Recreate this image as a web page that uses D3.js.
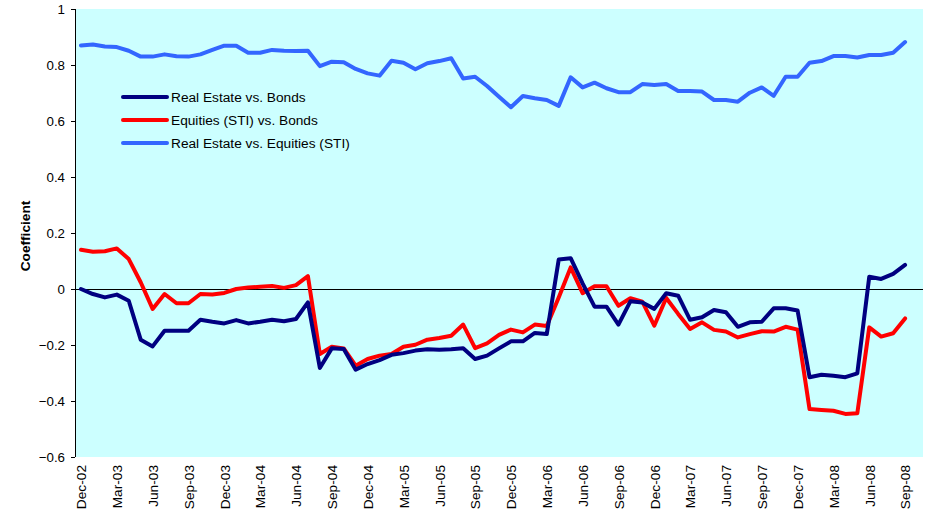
<!DOCTYPE html>
<html>
<head>
<meta charset="utf-8">
<script src="https://cdn.jsdelivr.net/npm/d3@7"></script>
<style>
  body { margin: 0; background: #ffffff; }
  svg { display: block; font-family: "Liberation Sans", Arial, sans-serif; }
</style>
</head>
<body>
<svg id="chart" width="931" height="515"></svg>
<script>
// ---- data ----
const tickLabels = ["Dec-02","Mar-03","Jun-03","Sep-03","Dec-03","Mar-04","Jun-04","Sep-04",
  "Dec-04","Mar-05","Jun-05","Sep-05","Dec-05","Mar-06","Jun-06","Sep-06",
  "Dec-06","Mar-07","Jun-07","Sep-07","Dec-07","Mar-08","Jun-08","Sep-08"];

const seriesNames = ["Real Estate vs. Bonds", "Equities (STI) vs. Bonds", "Real Estate vs. Equities (STI)"];

const realEstateVsBonds = [
  0.000, -0.018, -0.030, -0.020, -0.042, -0.181, -0.205, -0.149, -0.149, -0.149,
  -0.110, -0.117, -0.123, -0.111, -0.123, -0.117, -0.110, -0.115, -0.107, -0.048,
  -0.282, -0.212, -0.214, -0.288, -0.268, -0.254, -0.235, -0.229, -0.220, -0.215,
  -0.217, -0.215, -0.212, -0.250, -0.238, -0.212, -0.187, -0.187, -0.157, -0.161,
   0.105,  0.110,  0.020, -0.063, -0.063, -0.127, -0.044, -0.048, -0.071, -0.015,
  -0.024, -0.110, -0.101, -0.075, -0.083, -0.135, -0.119, -0.117, -0.069, -0.069,
  -0.077, -0.315, -0.306, -0.310, -0.315, -0.301,  0.044,  0.036,  0.054,  0.086
];

const equitiesVsBonds = [
  0.140,  0.133,  0.135,  0.145,  0.107,  0.024, -0.071, -0.018, -0.051, -0.051,
  -0.018, -0.020, -0.014,  0.000,  0.005,  0.008,  0.011,  0.004,  0.014,  0.046,
  -0.232, -0.206, -0.212, -0.274, -0.250, -0.238, -0.232, -0.206, -0.199, -0.181,
  -0.175, -0.167, -0.127, -0.211, -0.194, -0.164, -0.145, -0.155, -0.127, -0.132,
  -0.030,  0.077, -0.015,  0.010,  0.010, -0.060, -0.033, -0.045, -0.131, -0.032,
  -0.089, -0.143, -0.119, -0.146, -0.152, -0.173, -0.161, -0.151, -0.152, -0.135,
  -0.145, -0.429, -0.432, -0.435, -0.446, -0.444, -0.137, -0.170, -0.158, -0.105
];

const realEstateVsEquities = [
  0.870,  0.873,  0.866,  0.864,  0.851,  0.830,  0.830,  0.838,  0.831,  0.830,
  0.838,  0.854,  0.869,  0.869,  0.844,  0.844,  0.854,  0.851,  0.850,  0.851,
  0.796,  0.812,  0.810,  0.786,  0.770,  0.762,  0.815,  0.808,  0.785,  0.806,
  0.814,  0.824,  0.752,  0.758,  0.725,  0.687,  0.649,  0.689,  0.681,  0.675,
  0.654,  0.756,  0.720,  0.737,  0.717,  0.703,  0.703,  0.732,  0.729,  0.732,
  0.707,  0.707,  0.705,  0.675,  0.675,  0.669,  0.701,  0.720,  0.690,  0.758,
  0.758,  0.808,  0.814,  0.832,  0.832,  0.827,  0.836,  0.836,  0.844,  0.882
];

const yTicks = [-0.6, -0.4, -0.2, 0, 0.2, 0.4, 0.6, 0.8, 1];
const seriesColors = ["#000080", "#FF0000", "#3366FF"];

// ---- layout ----
const svg = d3.select("#chart");
const plot = { left: 75, right: 923, top: 9, bottom: 457 };
const fontSize = 13.7;

const nMonths = realEstateVsBonds.length;
const x = d3.scaleLinear().domain([-0.5, nMonths + 0.5]).range([plot.left, plot.right]);
const y = d3.scaleLinear().domain([-0.6, 1]).range([plot.bottom, plot.top]);

// background
svg.append("rect")
  .attr("x", plot.left).attr("y", plot.top)
  .attr("width", plot.right - plot.left).attr("height", plot.bottom - plot.top)
  .attr("fill", "#CCFFFF");

// zero line (category axis)
svg.append("line")
  .attr("x1", plot.left).attr("x2", plot.right)
  .attr("y1", y(0)).attr("y2", y(0))
  .attr("stroke", "#000").attr("stroke-width", 1).attr("shape-rendering", "crispEdges");

// y axis
const yAxis = svg.append("g")
  .attr("transform", `translate(${plot.left},0)`)
  .call(d3.axisLeft(y).tickValues(yTicks).tickSize(4).tickPadding(6)
    .tickFormat(d => d3.format("~g")(d)));
yAxis.selectAll("path, line").attr("stroke", "#000").attr("shape-rendering", "crispEdges");
yAxis.select(".domain").attr("d", `M0,${plot.top}V${plot.bottom}`);
yAxis.selectAll("text").attr("font-size", 13.3).attr("fill", "#000")
  .attr("font-family", "Liberation Sans, Arial, sans-serif");

// x axis labels
const tickIdx = tickLabels.map((d, i) => i * 3);
const xAxis = svg.append("g")
  .attr("transform", `translate(0,${plot.bottom})`)
  .call(d3.axisBottom(x).tickValues(tickIdx).tickSize(0)
    .tickFormat((d, i) => tickLabels[i]));
xAxis.select(".domain").remove();
xAxis.selectAll("text")
  .attr("font-size", fontSize).attr("fill", "#000")
  .attr("font-family", "Liberation Sans, Arial, sans-serif")
  .attr("text-anchor", "end")
  .attr("transform", "rotate(-90)")
  .attr("x", -8).attr("y", 0).attr("dy", "0.35em");

// y axis title
svg.append("text")
  .attr("transform", `translate(30,${(plot.top + plot.bottom) / 2 + 3}) rotate(-90)`)
  .attr("text-anchor", "middle")
  .attr("font-size", fontSize).attr("font-weight", "bold")
  .text("Coefficient");

// lines
const allSeries = [realEstateVsBonds, equitiesVsBonds, realEstateVsEquities];
const line = d3.line().x((d, i) => x(i)).y(d => y(d));
[2, 1, 0].forEach(k => {
  svg.append("path")
    .datum(allSeries[k])
    .attr("fill", "none")
    .attr("stroke", seriesColors[k])
    .attr("stroke-width", 4)
    .attr("stroke-linejoin", "round")
    .attr("stroke-linecap", "round")
    .attr("d", line);
});

// legend
const legend = svg.append("g").attr("transform", "translate(123,97)");
seriesNames.forEach((name, k) => {
  const g = legend.append("g").attr("transform", `translate(0,${k * 23})`);
  g.append("line").attr("x1", 0).attr("x2", 44).attr("y1", 0).attr("y2", 0)
    .attr("stroke", seriesColors[k]).attr("stroke-width", 4).attr("stroke-linecap", "round");
  g.append("text").attr("x", 48).attr("y", 0).attr("dy", "0.35em")
    .attr("font-size", fontSize).attr("fill", "#000").text(name);
});
</script>
</body>
</html>
